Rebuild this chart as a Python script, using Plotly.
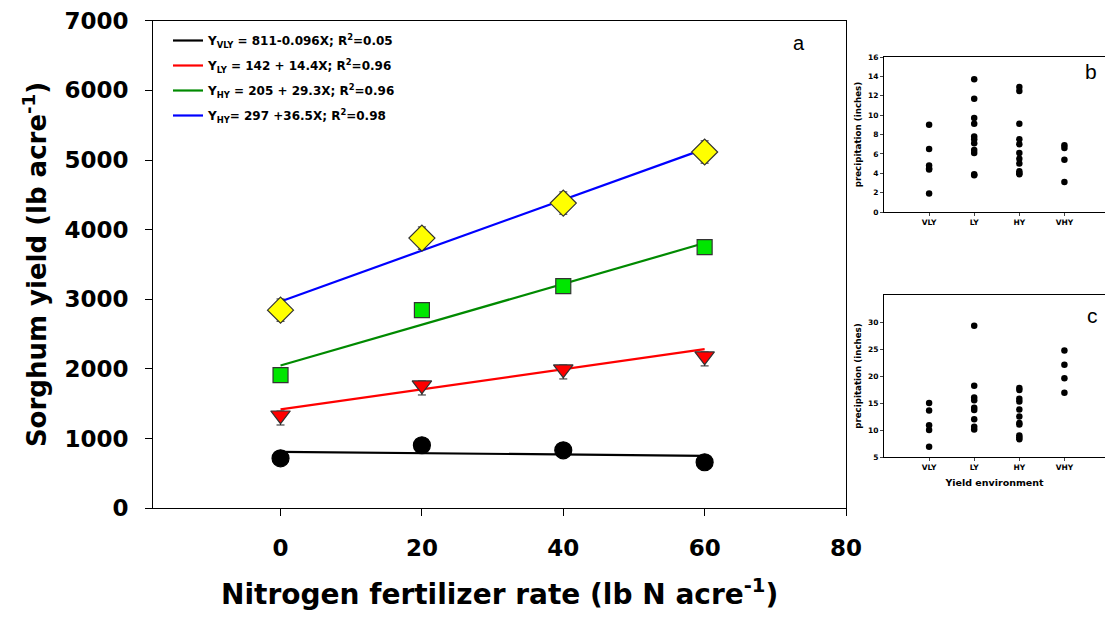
import plotly.graph_objects as go

# ---------------- Data: panel a ----------------
n_rate = [0, 20, 40, 60]
yield_vly = [718, 905, 833, 661]
yield_ly = [1336, 1767, 1997, 2184]
yield_hy = [1911, 2845, 3190, 3750]
yield_vhy = [2845, 3879, 4382, 5115]
err_up_vly = [60, 60, 60, 60]
err_dn_vly = [60, 60, 60, 60]
err_up_ly = [60, 60, 60, 60]
err_dn_ly = [140, 140, 140, 140]
err_up_hy = [80, 80, 80, 80]
err_dn_hy = [80, 80, 80, 80]
err_up_vhy = [160, 160, 160, 160]
err_dn_vhy = [160, 160, 160, 160]

fit_intercept = [811, 1420, 2050, 2970]
fit_slope = [-0.96, 14.4, 29.3, 36.5]
legend_labels = [
    "Y<sub>VLY</sub> = 811-0.096X; R<sup>2</sup>=0.05",
    "Y<sub>LY</sub> = 142 + 14.4X; R<sup>2</sup>=0.96",
    "Y<sub>HY</sub> = 205 + 29.3X; R<sup>2</sup>=0.96",
    "Y<sub>HY</sub>= 297 +36.5X; R<sup>2</sup>=0.98",
]
x_ticks_a = [0, 20, 40, 60, 80]
y_ticks_a = [0, 1000, 2000, 3000, 4000, 5000, 6000, 7000]

# ---------------- Data: panels b and c ----------------
env_labels = ["VLY", "LY", "HY", "VHY"]
precip_b = {
    "VLY": [9.0, 6.5, 4.8, 4.5, 4.4, 1.9],
    "LY": [13.7, 11.7, 9.7, 9.1, 7.8, 7.5, 7.1, 6.4, 6.1, 3.8, 3.9],
    "HY": [12.9, 12.5, 9.1, 7.5, 7.0, 6.1, 5.5, 5.0, 4.2, 3.9, 4.0],
    "VHY": [6.9, 6.6, 5.4, 3.1],
}
precip_c = {
    "VLY": [15.0, 13.6, 10.9, 10.0, 6.9],
    "LY": [29.3, 18.2, 16.0, 15.5, 14.1, 13.7, 12.0, 10.6, 10.1],
    "HY": [17.8, 17.4, 15.8, 15.3, 13.8, 12.5, 11.3, 11.0, 9.0, 8.6, 8.3],
    "VHY": [24.7, 22.1, 19.6, 16.9],
}
y_ticks_b = [0, 2, 4, 6, 8, 10, 12, 14, 16]
y_ticks_c = [5, 10, 15, 20, 25, 30]

FONT = "DejaVu Sans, Verdana, sans-serif"
FONT_LBL = "Liberation Sans, Arial, sans-serif"

fig = go.Figure()

series = [
    (yield_vly, err_up_vly, err_dn_vly, "circle", "black", "black", 17, "black"),
    (yield_ly, err_up_ly, err_dn_ly, "triangle-down", "#FF0000", "#333333", 17, "#FF0000"),
    (yield_hy, err_up_hy, err_dn_hy, "square", "#00E600", "#333333", 15, "#008A00"),
    (yield_vhy, err_up_vhy, err_dn_vhy, "diamond", "#FFFF00", "#333333", 20, "#0000FF"),
]

# regression lines (legend entries)
for i, s in enumerate(series):
    lcol = s[7]
    fx = [n_rate[0], n_rate[-1]]
    fy = [fit_intercept[i] + fit_slope[i] * x for x in fx]
    fig.add_trace(go.Scatter(
        x=fx, y=fy, mode="lines", line=dict(color=lcol, width=2.2),
        name=legend_labels[i], legendgroup="g%d" % i,
        xaxis="x", yaxis="y", showlegend=True,
    ))

# points with error bars
for i, s in enumerate(series):
    vals, eup, edn, sym, fill, edge, size, lcol = s
    fig.add_trace(go.Scatter(
        x=n_rate, y=vals, mode="markers",
        marker=dict(symbol=sym, color=fill, size=size, line=dict(color=edge, width=1.2)),
        error_y=dict(type="data", array=eup, arrayminus=edn, symmetric=False,
                     color="#222222", thickness=1, width=4),
        showlegend=False, xaxis="x", yaxis="y",
    ))

# panels b and c
for key_i, lab in enumerate(env_labels):
    vb = precip_b[lab]
    fig.add_trace(go.Scatter(
        x=[key_i + 1] * len(vb), y=vb, mode="markers",
        marker=dict(color="black", size=6.5), showlegend=False, xaxis="x2", yaxis="y2",
    ))
    vc = precip_c[lab]
    fig.add_trace(go.Scatter(
        x=[key_i + 1] * len(vc), y=vc, mode="markers",
        marker=dict(color="black", size=6.5), showlegend=False, xaxis="x3", yaxis="y3",
    ))

W, H = 1105, 618
def px_x(p):
    return p / W
def px_y(p):
    return (H - p) / H

common = dict(showgrid=False, zeroline=False, automargin=False, showline=True, linecolor="black")

fig.update_layout(
    width=W, height=H,
    margin=dict(l=0, r=0, t=0, b=0, autoexpand=False),
    paper_bgcolor="white", plot_bgcolor="white",
    font=dict(family=FONT, color="black"),
    xaxis=dict(
        domain=[px_x(153.3), px_x(846)], range=[-18, 80],
        tickvals=x_ticks_a, ticks="outside", ticklen=7, tickcolor="black",
        tickfont=dict(size=23, weight="bold", family=FONT),
        ticklabelstandoff=12,
        title=dict(text="Nitrogen fertilizer rate (lb N acre<sup>-1</sup>)",
                   font=dict(size=28, weight="bold", family=FONT), standoff=24),
        mirror=True, anchor="y", linewidth=1.3, **common,
    ),
    yaxis=dict(
        domain=[px_y(508.3), px_y(20.7)], range=[0, 7000],
        tickvals=y_ticks_a, ticks="outside", ticklen=7, tickcolor="black",
        tickfont=dict(size=23, weight="bold", family=FONT),
        ticklabelstandoff=12,
        title=dict(text="Sorghum yield (lb acre<sup>-1</sup>)",
                   font=dict(size=26, weight="bold", family=FONT), standoff=10),
        mirror=True, anchor="x", linewidth=1.3, **common,
    ),
    xaxis2=dict(
        domain=[px_x(884), 1.0], range=[0, 4.9],
        tickvals=[1, 2, 3, 4], ticktext=env_labels, ticks="outside", ticklen=3,
        tickfont=dict(size=7.5, weight="bold", family=FONT),
        mirror=True, anchor="y2", linewidth=1, **common,
    ),
    yaxis2=dict(
        domain=[px_y(212), px_y(57)], range=[0, 16],
        tickvals=y_ticks_b, ticks="outside", ticklen=3,
        tickfont=dict(size=7.5, weight="bold", family=FONT),
        title=dict(text="precipitation (inches)", font=dict(size=8.7, weight="bold", family=FONT), standoff=5),
        anchor="x2", linewidth=1, **common,
    ),
    xaxis3=dict(
        domain=[px_x(884), 1.0], range=[0, 4.9],
        tickvals=[1, 2, 3, 4], ticktext=env_labels, ticks="outside", ticklen=3,
        tickfont=dict(size=7.5, weight="bold", family=FONT),
        title=dict(text="Yield environment", font=dict(size=9.5, weight="bold", family=FONT), standoff=8),
        mirror=True, anchor="y3", linewidth=1, **common,
    ),
    yaxis3=dict(
        domain=[px_y(457), px_y(295)], range=[5, 35],
        tickvals=y_ticks_c, ticks="outside", ticklen=3,
        tickfont=dict(size=7.5, weight="bold", family=FONT),
        title=dict(text="precipitation (inches)", font=dict(size=8.7, weight="bold", family=FONT), standoff=5),
        anchor="x3", linewidth=1, **common,
    ),
    legend=dict(
        x=px_x(168), y=px_y(26), xanchor="left", yanchor="top",
        bgcolor="rgba(0,0,0,0)", itemwidth=30,
        font=dict(size=12, weight="bold", family=FONT),
        tracegroupgap=6,
    ),
    annotations=[
        dict(text="a", x=px_x(799), y=px_y(43), xref="paper", yref="paper",
             xanchor="center", yanchor="middle",
             showarrow=False, font=dict(size=20, family=FONT_LBL)),
        dict(text="b", x=px_x(1091), y=px_y(72), xref="paper", yref="paper",
             xanchor="center", yanchor="middle",
             showarrow=False, font=dict(size=21, family=FONT_LBL)),
        dict(text="c", x=px_x(1092), y=px_y(316), xref="paper", yref="paper",
             xanchor="center", yanchor="middle",
             showarrow=False, font=dict(size=21, family=FONT_LBL)),
    ],
)

fig.write_html(
    "out.html",
    config={"displayModeBar": False},
    post_script="document.body.style.margin='0';document.body.style.overflow='hidden';",
)
